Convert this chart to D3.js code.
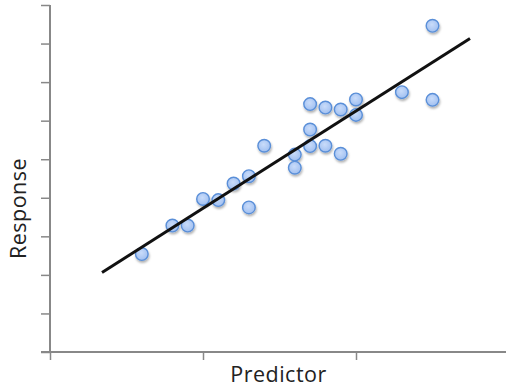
<!DOCTYPE html>
<html>
<head>
<meta charset="utf-8">
<script src="https://cdn.jsdelivr.net/npm/d3@7"></script>
<style>
  html, body { margin: 0; padding: 0; background: #fff; }
  svg { display: block; }
  text { font-family: "Open Sans", sans-serif; fill: #222; }
</style>
</head>
<body>
<svg id="chart" width="506" height="389"></svg>
<script>
// Observations: predictor values and matching responses
const predictor = [0.6, 0.8, 0.9, 1.0, 1.1, 1.2, 1.3, 1.3, 1.4, 1.6, 1.6, 1.7, 1.7, 1.7,
                   1.8, 1.8, 1.9, 1.9, 2.0, 2.0, 2.3, 2.5, 2.5];
const response  = [2.54, 3.28, 3.28, 3.97, 3.94, 4.37, 4.56, 3.75, 5.35, 5.12, 4.78, 6.43, 5.77, 5.34,
                   6.34, 5.35, 6.29, 5.14, 6.55, 6.15, 6.74, 8.46, 6.54];
// Span over which the fitted line is drawn
const trendSpan = [0.34, 2.745];
// Axis tick positions (no tick labels shown)
const xTicks = [0, 1, 2, 3];
const yTicks = [0, 1, 2, 3, 4, 5, 6, 7, 8, 9];

const svg = d3.select("#chart");
const x = d3.scaleLinear().domain([0, 3]).range([50, 509]);
const y = d3.scaleLinear().domain([0, 9]).range([352, 5]);

// Least-squares fit
const mx = d3.mean(predictor), my = d3.mean(response);
let sxy = 0, sxx = 0;
predictor.forEach((v, i) => { sxy += (v - mx) * (response[i] - my); sxx += (v - mx) ** 2; });
const slope = sxy / sxx, intercept = my - slope * mx;

const defs = svg.append("defs");
const grad = defs.append("radialGradient").attr("id", "dotFill")
  .attr("cx", "45%").attr("cy", "40%").attr("r", "65%");
grad.append("stop").attr("offset", "0%").attr("stop-color", "#c9dcfa");
grad.append("stop").attr("offset", "100%").attr("stop-color", "#9dbdf0");
const shadow = defs.append("filter").attr("id", "dotShadow")
  .attr("x", "-50%").attr("y", "-50%").attr("width", "200%").attr("height", "200%");
shadow.append("feDropShadow").attr("dx", 0.8).attr("dy", 2).attr("stdDeviation", 1.3)
  .attr("flood-color", "#000").attr("flood-opacity", 0.3);

// Axes
const yAxis = svg.append("g").attr("transform", `translate(${x(0)},0)`)
  .call(d3.axisLeft(y).tickValues(yTicks).tickSize(9).tickFormat(""));
const xAxis = svg.append("g").attr("transform", `translate(0,${y(0)})`)
  .call(d3.axisBottom(x).tickValues(xTicks).tickSize(8).tickFormat(""));
[yAxis, xAxis].forEach(g => {
  g.select(".domain").attr("stroke", "#888").attr("stroke-width", 2);
  g.selectAll(".tick line").attr("stroke", "#888").attr("stroke-width", 1.5);
});
yAxis.select(".domain").attr("d", `M0,${y(9)}V${y(0)}`);
xAxis.select(".domain").attr("d", `M${x(0) - 9},0H${x(3)}`);

// Points
const pts = predictor.map((v, i) => ({ px: v, ry: response[i] }));
svg.append("g").selectAll("circle").data(pts).join("circle")
  .attr("cx", d => x(d.px)).attr("cy", d => y(d.ry)).attr("r", 6.3)
  .attr("fill", "url(#dotFill)").attr("stroke", "#5a8fd8").attr("stroke-width", 1.4)
  .attr("filter", "url(#dotShadow)");

// Fitted line
svg.append("line")
  .attr("x1", x(trendSpan[0])).attr("y1", y(intercept + slope * trendSpan[0]))
  .attr("x2", x(trendSpan[1])).attr("y2", y(intercept + slope * trendSpan[1]))
  .attr("stroke", "#111").attr("stroke-width", 3);

// Axis titles
svg.append("text").attr("x", 278.5).attr("y", 382).attr("text-anchor", "middle")
  .attr("font-size", 21.5).attr("letter-spacing", 0.5).text("Predictor");
svg.append("text").attr("transform", "translate(26,208.5) rotate(-90)").attr("text-anchor", "middle")
  .attr("font-size", 21.5).attr("letter-spacing", 0.5).text("Response");
</script>
</body>
</html>
